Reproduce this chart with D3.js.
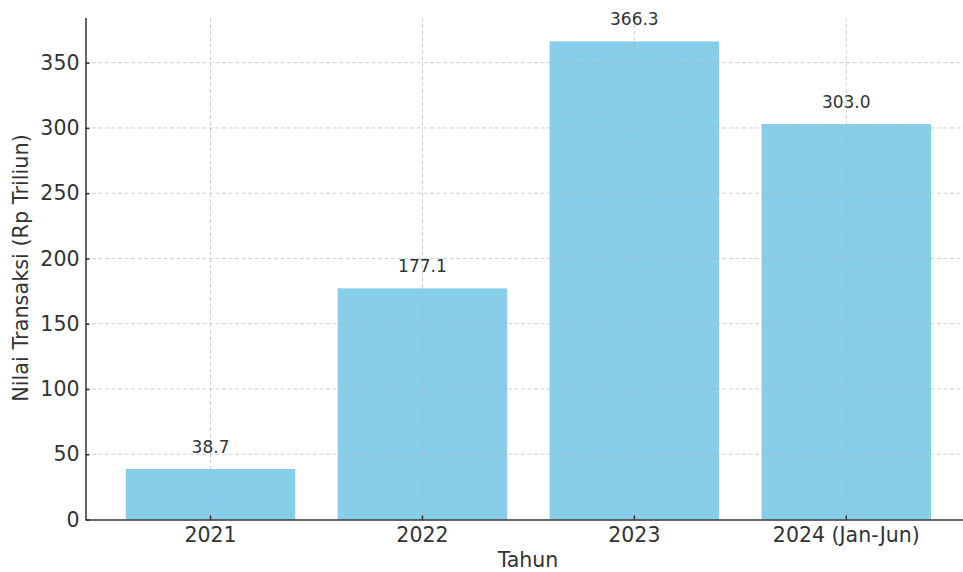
<!DOCTYPE html>
<html>
<head>
<meta charset="utf-8">
<script src="https://cdn.jsdelivr.net/npm/d3@7"></script>
<style>
  html, body { margin: 0; padding: 0; background: #fff; }
  svg { display: block; font-family: "DejaVu Sans", sans-serif; }
</style>
</head>
<body>
<svg id="chart" width="963" height="572"></svg>
<script>
// Annual transaction value (Rp trillion)
const categories = ["2021", "2022", "2023", "2024 (Jan-Jun)"];
const values = [38.7, 177.1, 366.3, 303.0];
const yTicks = [0, 50, 100, 150, 200, 250, 300, 350];
const xTitle = "Tahun";
const yTitle = "Nilai Transaksi (Rp Triliun)";

const svg = d3.select("#chart");
const plot = { left: 85.5, right: 971.3, top: 17.5, bottom: 519.5 };

const x = d3.scaleBand()
  .domain(categories)
  .range([plot.left, plot.right])
  .paddingInner(0.2)
  .paddingOuter(0.19);

const y = d3.scaleLinear()
  .domain([0, d3.max(values) * 1.05])
  .range([plot.bottom, plot.top]);

// bars
svg.append("g").selectAll("rect")
  .data(values)
  .join("rect")
  .attr("x", (d, i) => x(categories[i]))
  .attr("width", x.bandwidth())
  .attr("y", d => y(d))
  .attr("height", d => y(0) - y(d))
  .attr("fill", "#87CEEB");

// dashed grid drawn over the bars
const grid = svg.append("g")
  .attr("stroke", "#b0b0b0")
  .attr("stroke-opacity", 0.6)
  .attr("stroke-width", 1)
  .attr("stroke-dasharray", "4,2.5");
grid.selectAll("line.h")
  .data(yTicks.filter(t => t > 0))
  .join("line")
  .attr("class", "h")
  .attr("x1", plot.left).attr("x2", plot.right)
  .attr("y1", d => y(d)).attr("y2", d => y(d));
grid.selectAll("line.v")
  .data(categories)
  .join("line")
  .attr("class", "v")
  .attr("x1", d => x(d) + x.bandwidth() / 2)
  .attr("x2", d => x(d) + x.bandwidth() / 2)
  .attr("y1", plot.top).attr("y2", plot.bottom);

// value labels
svg.append("g").selectAll("text")
  .data(values)
  .join("text")
  .attr("x", (d, i) => x(categories[i]) + x.bandwidth() / 2)
  .attr("y", d => y(d) - 16)
  .attr("text-anchor", "middle")
  .attr("font-size", 17)
  .attr("fill", "#333")
  .text(d => d.toFixed(1));

// axes
const yAxis = d3.axisLeft(y)
  .tickValues(yTicks)
  .tickSizeInner(-4)
  .tickSizeOuter(0)
  .tickPadding(6);
const gy = svg.append("g")
  .attr("transform", `translate(${plot.left},0)`)
  .call(yAxis);

const xAxis = d3.axisBottom(x)
  .tickSizeInner(-4)
  .tickSizeOuter(0)
  .tickPadding(8);
const gx = svg.append("g")
  .attr("transform", `translate(0,${plot.bottom})`)
  .call(xAxis);

[gx, gy].forEach(g => {
  g.select(".domain").attr("stroke", "#333").attr("stroke-width", 1.5);
  g.selectAll(".tick line").attr("stroke", "#333").attr("stroke-width", 1.5);
  g.selectAll(".tick text")
    .attr("font-family", "DejaVu Sans, sans-serif")
    .attr("font-size", 20.5)
    .attr("fill", "#333");
});

// axis titles
svg.append("text")
  .attr("x", 528)
  .attr("y", 566.5)
  .attr("text-anchor", "middle")
  .attr("font-size", 20.5)
  .attr("fill", "#333")
  .text(xTitle);

svg.append("text")
  .attr("transform", `translate(28,268) rotate(-90)`)
  .attr("text-anchor", "middle")
  .attr("font-size", 20.8)
  .attr("fill", "#333")
  .text(yTitle);
</script>
</body>
</html>
